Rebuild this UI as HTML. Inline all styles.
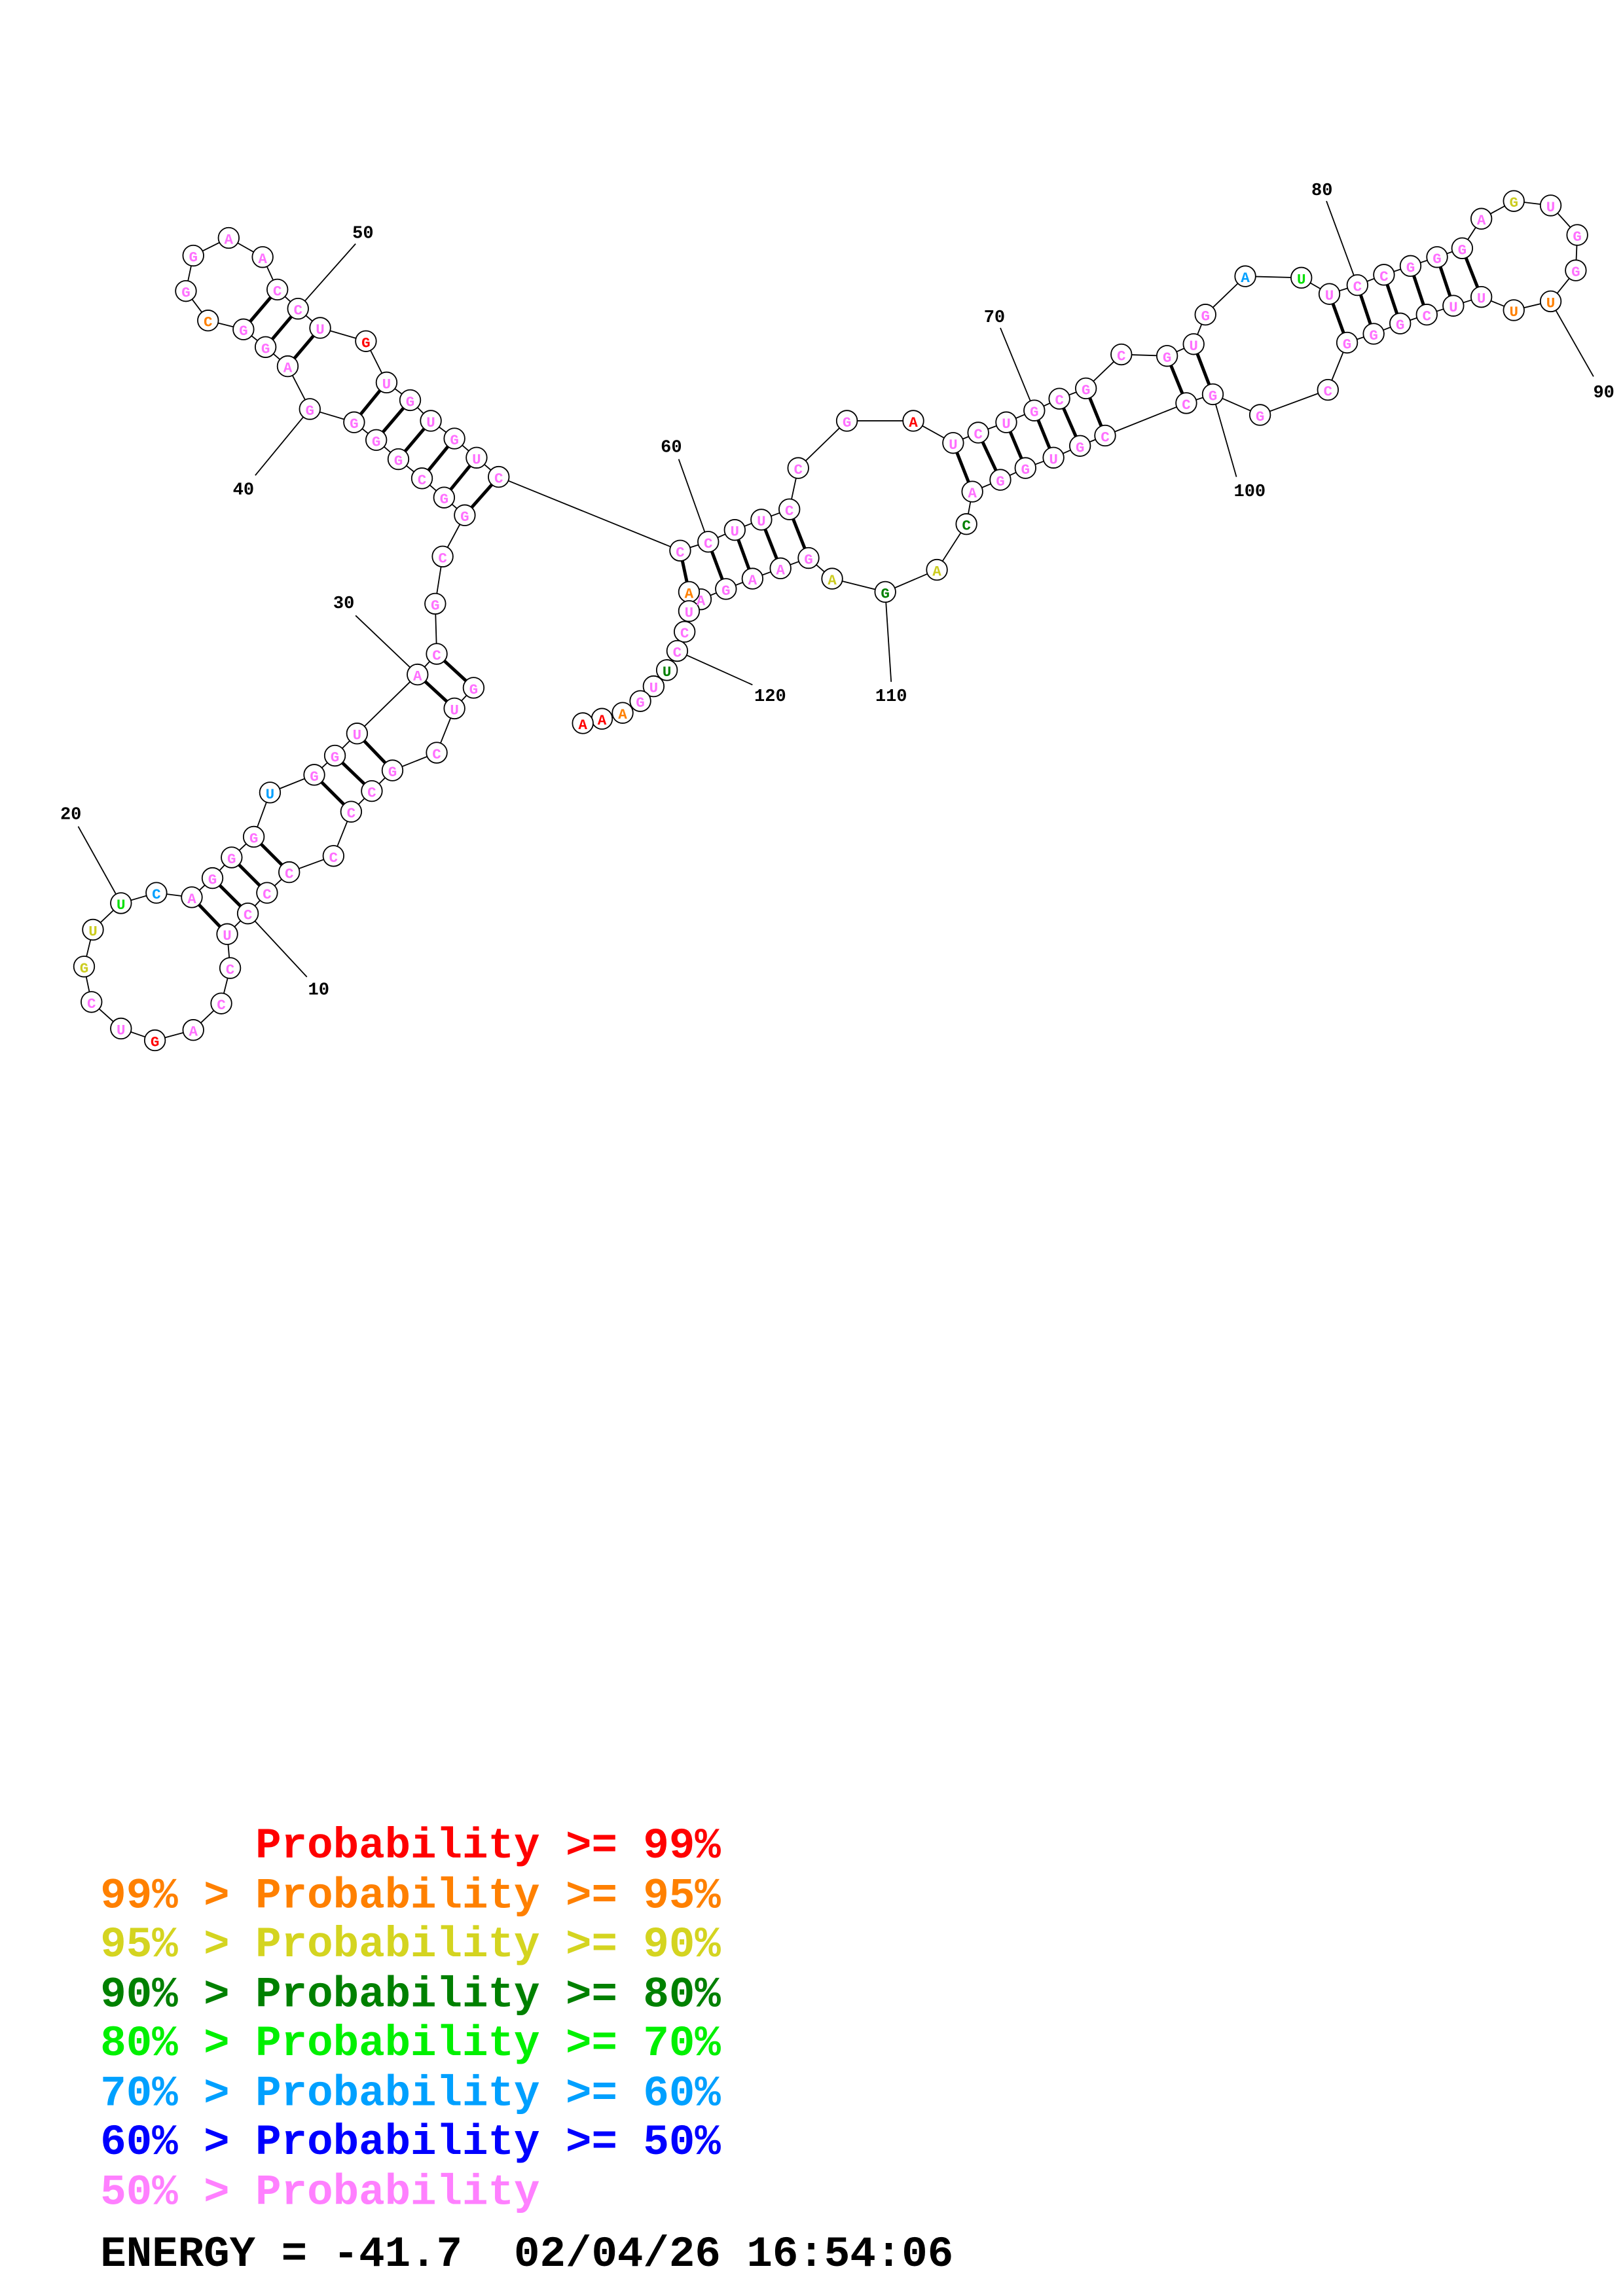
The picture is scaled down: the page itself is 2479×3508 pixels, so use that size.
<!DOCTYPE html>
<html><head><meta charset="utf-8"><style>html,body{margin:0;padding:0;background:#fff}svg{display:block}</style></head>
<body>
<svg width="2479" height="3508" viewBox="0 0 1100 1556" xmlns="http://www.w3.org/2000/svg">
<rect width="1100" height="1556" fill="#fff"/>
<g transform="translate(-2,-3)">
<g stroke="#000" stroke-width="0.8" fill="none">
<polyline points="323,469 310,483 298,513 268,525 254,539 240,553 228,583 198,594 183,608 170,622 156,636 158,659 152,683 133,701 107,708 84,700 64,682 59,658 65,633 84,615 108,608 132,611 146,598 159,584 174,570 185,540 215,528 229,515 244,500 285,460 298,446 297,412 302,380 317,352 303,340 288,327 272,314 257,301 242,289 212,280 197,251 182,238 167,226 143,220 128,200 133,176 157,164 180,177 190,199 204,212 219,225 250,234 264,262 280,274 294,288 310,300 325,313 340,326 463,376 482,370 500,362 518,355 537,348 543,320 576,288 621,288 648,303 665,296 684,289 703,281 720,273 738,266 762,243 793,244 811,236 819,216 846,190 884,191 903,202 922,196 940,189 958,183 976,177 993,171 1006,151 1028,139 1053,142 1071,162 1070,186 1053,207 1028,213 1006,204 987,210 969,216 951,222 933,229 915,235 902,267 856,284 824,270 806,276 751,298 734,305 716,313 697,320 680,328 661,336 657,358 637,389 602,404 566,395 550,381 531,388 512,395 494,402 477,409 469,404 469,417 466,431 461,444 454,457 445,468 436,478 424,486 410,490 397,493"/>
<line x1="170" y1="622" x2="210" y2="665"/>
<line x1="84" y1="615" x2="55" y2="563"/>
<line x1="285" y1="460" x2="243" y2="420"/>
<line x1="212" y1="280" x2="175" y2="325"/>
<line x1="204" y1="212" x2="243" y2="168"/>
<line x1="482" y1="370" x2="462" y2="314"/>
<line x1="703" y1="281" x2="680" y2="225"/>
<line x1="922" y1="196" x2="901" y2="139"/>
<line x1="1053" y1="207" x2="1082" y2="258"/>
<line x1="824" y1="270" x2="840" y2="326"/>
<line x1="602" y1="404" x2="606" y2="465"/>
<line x1="461" y1="444" x2="512" y2="467"/>
</g>
<g stroke="#000" stroke-width="2.2">
<line x1="323" y1="469" x2="298" y2="446"/><line x1="310" y1="483" x2="285" y2="460"/>
<line x1="268" y1="525" x2="244" y2="500"/><line x1="254" y1="539" x2="229" y2="515"/><line x1="240" y1="553" x2="215" y2="528"/>
<line x1="198" y1="594" x2="174" y2="570"/><line x1="183" y1="608" x2="159" y2="584"/><line x1="170" y1="622" x2="146" y2="598"/><line x1="156" y1="636" x2="132" y2="611"/>
<line x1="317" y1="352" x2="340" y2="326"/><line x1="303" y1="340" x2="325" y2="313"/><line x1="288" y1="327" x2="310" y2="300"/><line x1="272" y1="314" x2="294" y2="288"/><line x1="257" y1="301" x2="280" y2="274"/><line x1="242" y1="289" x2="264" y2="262"/>
<line x1="197" y1="251" x2="219" y2="225"/><line x1="182" y1="238" x2="204" y2="212"/><line x1="167" y1="226" x2="190" y2="199"/>
<line x1="463" y1="376" x2="469" y2="404"/><line x1="482" y1="370" x2="494" y2="402"/><line x1="500" y1="362" x2="512" y2="395"/><line x1="518" y1="355" x2="531" y2="388"/><line x1="537" y1="348" x2="550" y2="381"/>
<line x1="648" y1="303" x2="661" y2="336"/><line x1="665" y1="296" x2="680" y2="328"/><line x1="684" y1="289" x2="697" y2="320"/><line x1="703" y1="281" x2="716" y2="313"/><line x1="720" y1="273" x2="734" y2="305"/><line x1="738" y1="266" x2="751" y2="298"/>
<line x1="793" y1="244" x2="806" y2="276"/><line x1="811" y1="236" x2="824" y2="270"/>
<line x1="903" y1="202" x2="915" y2="235"/><line x1="922" y1="196" x2="933" y2="229"/><line x1="940" y1="189" x2="951" y2="222"/><line x1="958" y1="183" x2="969" y2="216"/><line x1="976" y1="177" x2="987" y2="210"/><line x1="993" y1="171" x2="1006" y2="204"/>
</g>
<g fill="#fff" stroke="#000" stroke-width="0.8">
<circle cx="323" cy="469" r="7"/><circle cx="310" cy="483" r="7"/><circle cx="298" cy="513" r="7"/><circle cx="268" cy="525" r="7"/><circle cx="254" cy="539" r="7"/><circle cx="240" cy="553" r="7"/><circle cx="228" cy="583" r="7"/><circle cx="198" cy="594" r="7"/><circle cx="183" cy="608" r="7"/><circle cx="170" cy="622" r="7"/><circle cx="156" cy="636" r="7"/><circle cx="158" cy="659" r="7"/><circle cx="152" cy="683" r="7"/><circle cx="133" cy="701" r="7"/><circle cx="107" cy="708" r="7"/><circle cx="84" cy="700" r="7"/><circle cx="64" cy="682" r="7"/><circle cx="59" cy="658" r="7"/><circle cx="65" cy="633" r="7"/><circle cx="84" cy="615" r="7"/><circle cx="108" cy="608" r="7"/><circle cx="132" cy="611" r="7"/><circle cx="146" cy="598" r="7"/><circle cx="159" cy="584" r="7"/><circle cx="174" cy="570" r="7"/><circle cx="185" cy="540" r="7"/><circle cx="215" cy="528" r="7"/><circle cx="229" cy="515" r="7"/><circle cx="244" cy="500" r="7"/><circle cx="285" cy="460" r="7"/><circle cx="298" cy="446" r="7"/><circle cx="297" cy="412" r="7"/><circle cx="302" cy="380" r="7"/><circle cx="317" cy="352" r="7"/><circle cx="303" cy="340" r="7"/><circle cx="288" cy="327" r="7"/><circle cx="272" cy="314" r="7"/><circle cx="257" cy="301" r="7"/><circle cx="242" cy="289" r="7"/><circle cx="212" cy="280" r="7"/><circle cx="197" cy="251" r="7"/><circle cx="182" cy="238" r="7"/><circle cx="167" cy="226" r="7"/><circle cx="143" cy="220" r="7"/><circle cx="128" cy="200" r="7"/><circle cx="133" cy="176" r="7"/><circle cx="157" cy="164" r="7"/><circle cx="180" cy="177" r="7"/><circle cx="190" cy="199" r="7"/><circle cx="204" cy="212" r="7"/><circle cx="219" cy="225" r="7"/><circle cx="250" cy="234" r="7"/><circle cx="264" cy="262" r="7"/><circle cx="280" cy="274" r="7"/><circle cx="294" cy="288" r="7"/><circle cx="310" cy="300" r="7"/><circle cx="325" cy="313" r="7"/><circle cx="340" cy="326" r="7"/><circle cx="463" cy="376" r="7"/><circle cx="482" cy="370" r="7"/><circle cx="500" cy="362" r="7"/><circle cx="518" cy="355" r="7"/><circle cx="537" cy="348" r="7"/><circle cx="543" cy="320" r="7"/><circle cx="576" cy="288" r="7"/><circle cx="621" cy="288" r="7"/><circle cx="648" cy="303" r="7"/><circle cx="665" cy="296" r="7"/><circle cx="684" cy="289" r="7"/><circle cx="703" cy="281" r="7"/><circle cx="720" cy="273" r="7"/><circle cx="738" cy="266" r="7"/><circle cx="762" cy="243" r="7"/><circle cx="793" cy="244" r="7"/><circle cx="811" cy="236" r="7"/><circle cx="819" cy="216" r="7"/><circle cx="846" cy="190" r="7"/><circle cx="884" cy="191" r="7"/><circle cx="903" cy="202" r="7"/><circle cx="922" cy="196" r="7"/><circle cx="940" cy="189" r="7"/><circle cx="958" cy="183" r="7"/><circle cx="976" cy="177" r="7"/><circle cx="993" cy="171" r="7"/><circle cx="1006" cy="151" r="7"/><circle cx="1028" cy="139" r="7"/><circle cx="1053" cy="142" r="7"/><circle cx="1071" cy="162" r="7"/><circle cx="1070" cy="186" r="7"/><circle cx="1053" cy="207" r="7"/><circle cx="1028" cy="213" r="7"/><circle cx="1006" cy="204" r="7"/><circle cx="987" cy="210" r="7"/><circle cx="969" cy="216" r="7"/><circle cx="951" cy="222" r="7"/><circle cx="933" cy="229" r="7"/><circle cx="915" cy="235" r="7"/><circle cx="902" cy="267" r="7"/><circle cx="856" cy="284" r="7"/><circle cx="824" cy="270" r="7"/><circle cx="806" cy="276" r="7"/><circle cx="751" cy="298" r="7"/><circle cx="734" cy="305" r="7"/><circle cx="716" cy="313" r="7"/><circle cx="697" cy="320" r="7"/><circle cx="680" cy="328" r="7"/><circle cx="661" cy="336" r="7"/><circle cx="657" cy="358" r="7"/><circle cx="637" cy="389" r="7"/><circle cx="602" cy="404" r="7"/><circle cx="566" cy="395" r="7"/><circle cx="550" cy="381" r="7"/><circle cx="531" cy="388" r="7"/><circle cx="512" cy="395" r="7"/><circle cx="494" cy="402" r="7"/><circle cx="477" cy="409" r="7"/><circle cx="469" cy="404" r="7"/><circle cx="469" cy="417" r="7"/><circle cx="466" cy="431" r="7"/><circle cx="461" cy="444" r="7"/><circle cx="454" cy="457" r="7"/><circle cx="445" cy="468" r="7"/><circle cx="436" cy="478" r="7"/><circle cx="424" cy="486" r="7"/><circle cx="410" cy="490" r="7"/><circle cx="397" cy="493" r="7"/>
</g>
<g font-family="Liberation Mono, monospace" font-weight="bold" font-size="10" text-anchor="middle" fill="#ff70ff">
<text x="323" y="473">G</text><text x="310" y="487">U</text><text x="298" y="517">C</text><text x="268" y="529">G</text><text x="254" y="543">C</text><text x="240" y="557">C</text><text x="228" y="587">C</text><text x="198" y="598">C</text><text x="183" y="612">C</text><text x="170" y="626">C</text><text x="156" y="640">U</text><text x="158" y="663">C</text><text x="152" y="687">C</text><text x="133" y="705">A</text><text x="107" y="712" fill="#f00">G</text><text x="84" y="704">U</text><text x="64" y="686">C</text><text x="59" y="662" fill="#cccc20">G</text><text x="65" y="637" fill="#cccc20">U</text><text x="84" y="619" fill="#00e000">U</text><text x="108" y="612" fill="#00a0ff">C</text><text x="132" y="615">A</text><text x="146" y="602">G</text><text x="159" y="588">G</text><text x="174" y="574">G</text><text x="185" y="544" fill="#00a0ff">U</text><text x="215" y="532">G</text><text x="229" y="519">G</text><text x="244" y="504">U</text><text x="285" y="464">A</text><text x="298" y="450">C</text><text x="297" y="416">G</text><text x="302" y="384">C</text><text x="317" y="356">G</text><text x="303" y="344">G</text><text x="288" y="331">C</text><text x="272" y="318">G</text><text x="257" y="305">G</text><text x="242" y="293">G</text><text x="212" y="284">G</text><text x="197" y="255">A</text><text x="182" y="242">G</text><text x="167" y="230">G</text><text x="143" y="224" fill="#ff8000">C</text><text x="128" y="204">G</text><text x="133" y="180">G</text><text x="157" y="168">A</text><text x="180" y="181">A</text><text x="190" y="203">C</text><text x="204" y="216">C</text><text x="219" y="229">U</text><text x="250" y="238" fill="#f00">G</text><text x="264" y="266">U</text><text x="280" y="278">G</text><text x="294" y="292">U</text><text x="310" y="304">G</text><text x="325" y="317">U</text><text x="340" y="330">C</text><text x="463" y="380">C</text><text x="482" y="374">C</text><text x="500" y="366">U</text><text x="518" y="359">U</text><text x="537" y="352">C</text><text x="543" y="324">C</text><text x="576" y="292">G</text><text x="621" y="292" fill="#f00">A</text><text x="648" y="307">U</text><text x="665" y="300">C</text><text x="684" y="293">U</text><text x="703" y="285">G</text><text x="720" y="277">C</text><text x="738" y="270">G</text><text x="762" y="247">C</text><text x="793" y="248">G</text><text x="811" y="240">U</text><text x="819" y="220">G</text><text x="846" y="194" fill="#00a0ff">A</text><text x="884" y="195" fill="#00e000">U</text><text x="903" y="206">U</text><text x="922" y="200">C</text><text x="940" y="193">C</text><text x="958" y="187">G</text><text x="976" y="181">G</text><text x="993" y="175">G</text><text x="1006" y="155">A</text><text x="1028" y="143" fill="#cccc20">G</text><text x="1053" y="146">U</text><text x="1071" y="166">G</text><text x="1070" y="190">G</text><text x="1053" y="211" fill="#ff8000">U</text><text x="1028" y="217" fill="#ff8000">U</text><text x="1006" y="208">U</text><text x="987" y="214">U</text><text x="969" y="220">C</text><text x="951" y="226">G</text><text x="933" y="233">G</text><text x="915" y="239">G</text><text x="902" y="271">C</text><text x="856" y="288">G</text><text x="824" y="274">G</text><text x="806" y="280">C</text><text x="751" y="302">C</text><text x="734" y="309">G</text><text x="716" y="317">U</text><text x="697" y="324">G</text><text x="680" y="332">G</text><text x="661" y="340">A</text><text x="657" y="362" fill="#008000">C</text><text x="637" y="393" fill="#cccc20">A</text><text x="602" y="408" fill="#008000">G</text><text x="566" y="399" fill="#cccc20">A</text><text x="550" y="385">G</text><text x="531" y="392">A</text><text x="512" y="399">A</text><text x="494" y="406">G</text><text x="477" y="413">A</text><text x="469" y="408" fill="#ff8000">A</text><text x="469" y="421">U</text><text x="466" y="435">C</text><text x="461" y="448">C</text><text x="454" y="461" fill="#008000">U</text><text x="445" y="472">U</text><text x="436" y="482">G</text><text x="424" y="490" fill="#ff8000">A</text><text x="410" y="494" fill="#f00">A</text><text x="397" y="497" fill="#f00">A</text>
</g>
<g font-family="Liberation Mono, monospace" font-weight="bold" font-size="12" fill="#000" text-anchor="middle">
<text x="218" y="677">10</text><text x="50" y="558">20</text><text x="235" y="415">30</text><text x="167" y="338">40</text><text x="248" y="164">50</text><text x="457" y="309">60</text><text x="676" y="221">70</text><text x="898" y="135">80</text><text x="1089" y="272">90</text><text x="849" y="339">100</text><text x="606" y="478">110</text><text x="524" y="478">120</text>
</g>
</g>
<g font-family="Liberation Mono, monospace" font-weight="bold" font-size="29.2">
<text x="68" y="1259" fill="#ff0000" xml:space="preserve">      Probability &gt;= 99%</text>
<text x="68" y="1293" fill="#ff8000">99% &gt; Probability &gt;= 95%</text>
<text x="68" y="1326" fill="#d4d420">95% &gt; Probability &gt;= 90%</text>
<text x="68" y="1360" fill="#008000">90% &gt; Probability &gt;= 80%</text>
<text x="68" y="1393" fill="#00f000">80% &gt; Probability &gt;= 70%</text>
<text x="68" y="1427" fill="#00a0ff">70% &gt; Probability &gt;= 60%</text>
<text x="68" y="1460" fill="#0000ff">60% &gt; Probability &gt;= 50%</text>
<text x="68" y="1494" fill="#ff80ff">50% &gt; Probability</text>
<text x="68" y="1536" fill="#000" xml:space="preserve">ENERGY = -41.7  02/04/26 16:54:06</text>
</g>
</svg>
</body></html>
